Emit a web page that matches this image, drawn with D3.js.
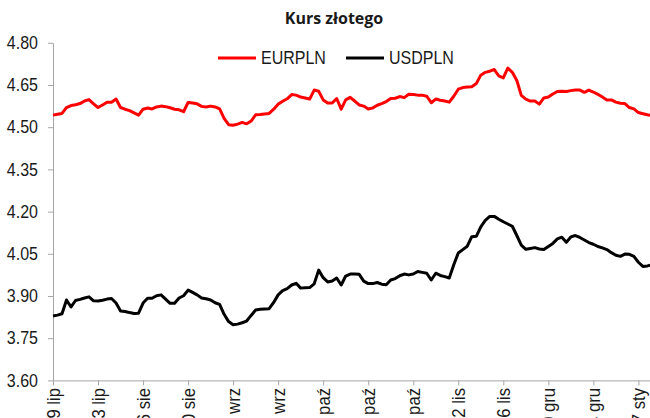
<!DOCTYPE html>
<html>
<head>
<meta charset="utf-8">
<script src="https://cdn.jsdelivr.net/npm/d3@7"></script>
<style>
  body { margin: 0; background: #fff; }
  svg { display: block; }
</style>
</head>
<body>
<script>
// wymiary
const w = 650;
const h = 418;

// kurs EURPLN (dni robocze od 09 lip)
const eurpln = [
  4.543, 4.546, 4.549, 4.570, 4.577, 4.580, 4.584, 4.593, 4.598, 4.583,
  4.570, 4.579, 4.589, 4.589, 4.600, 4.570, 4.564, 4.559, 4.551, 4.543,
  4.564, 4.568, 4.565, 4.572, 4.575, 4.573, 4.569, 4.564, 4.562, 4.555,
  4.588, 4.586, 4.583, 4.574, 4.572, 4.575, 4.572, 4.565, 4.531, 4.509,
  4.507, 4.511, 4.517, 4.512, 4.522, 4.544, 4.545, 4.547, 4.549, 4.564,
  4.582, 4.592, 4.601, 4.616, 4.614, 4.607, 4.604, 4.600, 4.632, 4.628,
  4.597, 4.586, 4.586, 4.602, 4.564, 4.597, 4.606, 4.593, 4.579, 4.575,
  4.565, 4.568, 4.578, 4.584, 4.591, 4.602, 4.603, 4.609, 4.605, 4.617,
  4.616, 4.614, 4.614, 4.610, 4.587, 4.600, 4.596, 4.593, 4.589, 4.610,
  4.635, 4.641, 4.643, 4.644, 4.655, 4.685, 4.695, 4.699, 4.705, 4.682,
  4.675, 4.710, 4.695, 4.666, 4.613, 4.600, 4.593, 4.593, 4.582, 4.604,
  4.607, 4.618, 4.627, 4.628, 4.627, 4.630, 4.632, 4.632, 4.624, 4.632,
  4.625, 4.617, 4.607, 4.597, 4.597, 4.589, 4.585, 4.584, 4.570, 4.565,
  4.552, 4.548, 4.544, 4.541
];

// kurs USDPLN
const usdpln = [
  3.829, 3.832, 3.837, 3.886, 3.861, 3.884, 3.888, 3.893, 3.897, 3.883,
  3.882, 3.885, 3.889, 3.891, 3.875, 3.847, 3.845, 3.841, 3.838, 3.839,
  3.875, 3.892, 3.892, 3.901, 3.904, 3.889, 3.874, 3.874, 3.893, 3.901,
  3.921, 3.913, 3.904, 3.893, 3.890, 3.886, 3.876, 3.870, 3.835, 3.809,
  3.798, 3.800, 3.805, 3.811, 3.831, 3.850, 3.853, 3.854, 3.855, 3.877,
  3.904, 3.919, 3.926, 3.939, 3.945, 3.928, 3.929, 3.930, 3.943, 3.992,
  3.965, 3.950, 3.953, 3.964, 3.939, 3.971, 3.978, 3.978, 3.977, 3.953,
  3.944, 3.944, 3.948, 3.942, 3.940, 3.957, 3.962, 3.972, 3.978, 3.975,
  3.978, 3.987, 3.984, 3.981, 3.957, 3.981, 3.973, 3.969, 3.964, 4.011,
  4.053, 4.065, 4.077, 4.111, 4.112, 4.146, 4.169, 4.183, 4.183, 4.173,
  4.164, 4.156, 4.148, 4.115, 4.081, 4.066, 4.069, 4.072, 4.067, 4.065,
  4.076, 4.087, 4.103, 4.109, 4.091, 4.110, 4.115, 4.108, 4.099, 4.090,
  4.084, 4.076, 4.071, 4.065, 4.054, 4.045, 4.041, 4.049, 4.048, 4.041,
  4.020, 4.005, 4.007, 4.011
];

// etykiety osi X (co 10 sesji)
const xLabels = ["09 lip", "23 lip", "06 sie", "20 sie", "03 wrz", "17 wrz", "01 paź",
  "15 paź", "29 paź", "12 lis", "26 lis", "10 gru", "24 gru", "07 sty"];
const yTicks = [3.60, 3.75, 3.90, 4.05, 4.20, 4.35, 4.50, 4.65, 4.80];

const seriesNames = ["EURPLN", "USDPLN"];
const seriesColors = ["#ff0000", "#000000"];

// brak kroju "Narrow" - zwężamy Liberation Sans
const font = "'Liberation Sans', Arial, sans-serif";
const sx = 0.89;
const sxLab = 0.93;

const x = d3.scaleLinear().domain([0, 133]).range([53, 651.9]);
const y = d3.scaleLinear().domain([3.6, 4.8]).range([380.4, 42.8]);

const svg = d3.select("body").append("svg").attr("width", w).attr("height", h);

// tytuł
svg.append("text")
  .attr("x", 334)
  .attr("y", 24)
  .attr("text-anchor", "middle")
  .attr("font-family", "'Open Sans', sans-serif")
  .attr("font-weight", 700)
  .attr("font-size", "16px")
  .attr("fill", "#1a1a1a")
  .text("Kurs złotego");

// oś Y
const yAxis = svg.append("g")
  .attr("transform", "translate(53,0)")
  .call(d3.axisLeft(y).tickValues(yTicks).tickSize(5).tickSizeOuter(0)
    .tickFormat(d3.format(".2f")));

yAxis.selectAll("text")
  .attr("transform", "scale(" + sx + ",1)")
  .attr("x", -15 / sx);

// oś X
const xAxis = svg.append("g")
  .attr("transform", "translate(0,380.4)")
  .call(d3.axisBottom(x).tickValues(d3.range(0, 131, 10)).tickSize(5).tickSizeOuter(0)
    .tickFormat(function (d, i) { return xLabels[i]; }));

xAxis.selectAll("text")
  .attr("transform", "rotate(-90) scale(" + sxLab + ",1)")
  .attr("x", -7.5 / sxLab)
  .attr("y", 0)
  .attr("dy", "0.35em")
  .style("text-anchor", "end");

[yAxis, xAxis].forEach(function (g) {
  g.select(".domain").attr("stroke", "#a6a6a6");
  g.selectAll(".tick line").attr("stroke", "#a6a6a6");
  g.selectAll("text")
    .attr("font-family", font)
    .attr("font-size", "18px")
    .attr("fill", "#1a1a1a");
});

// linie
const line = d3.line()
  .x(function (d, i) { return x(i); })
  .y(function (d) { return y(d); });

[eurpln, usdpln].forEach(function (s, k) {
  svg.append("path")
    .datum(s)
    .attr("d", line)
    .attr("fill", "none")
    .attr("stroke", seriesColors[k])
    .attr("stroke-width", 3)
    .attr("stroke-linejoin", "round");
});

// legenda
const legendX = [218, 346];
seriesNames.forEach(function (name, k) {
  const g = svg.append("g").attr("transform", "translate(" + legendX[k] + ",58)");
  g.append("line")
    .attr("x1", 0).attr("x2", 38)
    .attr("stroke", seriesColors[k])
    .attr("stroke-width", 3);
  g.append("text")
    .attr("transform", "translate(43,0) scale(" + sx + ",1)")
    .attr("dy", "0.35em")
    .attr("font-family", font)
    .attr("font-size", "18px")
    .attr("fill", "#1a1a1a")
    .text(name);
});
</script>
</body>
</html>
